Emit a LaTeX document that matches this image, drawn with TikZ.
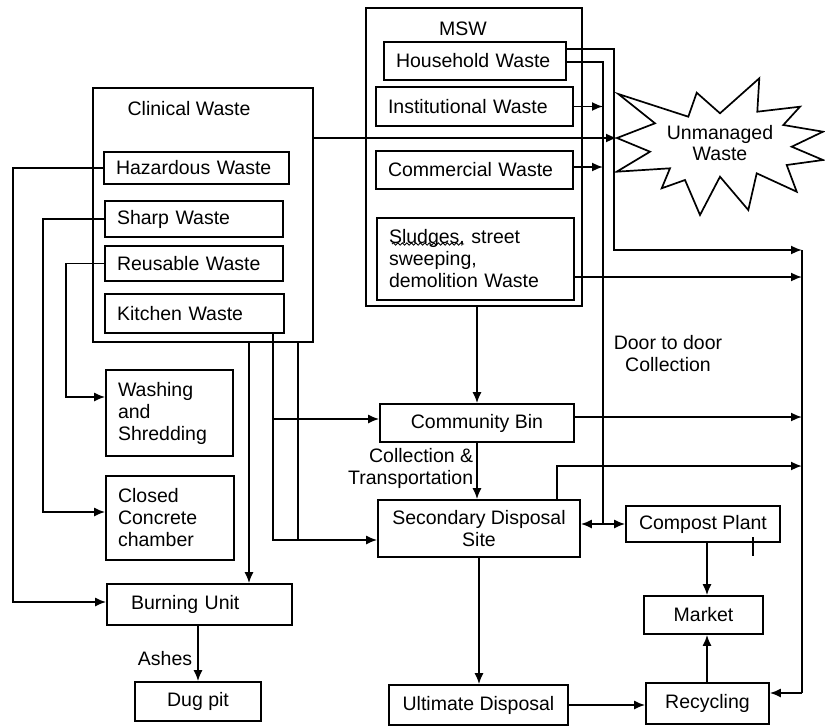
\documentclass[tikz,border=0pt]{standalone}
\usepackage{fontspec}
\setmainfont{Liberation Sans}
\usetikzlibrary{arrows.meta,decorations.pathmorphing}
\begin{document}
\begin{tikzpicture}[x=1pt,y=-1pt,
  font=\fontsize{19.5}{22}\selectfont,
  every path/.style={line width=1.7pt},
  lbox/.style={draw,line width=1.7pt,align=left,inner xsep=12pt,inner ysep=0pt},
  cbox/.style={draw,line width=1.7pt,align=center,inner sep=0pt},
  arr/.style={-{Latex[length=11pt,width=9pt]}},
  arrb/.style={{Latex[length=11pt,width=9pt]}-{Latex[length=11pt,width=9pt]}},
  lbl/.style={inner sep=0pt}]
\useasboundingbox[fill=white] (0,0) rectangle (825,726);

% outer group boxes
\node[draw,line width=1.7pt,minimum width=220pt,minimum height=254pt,inner sep=0pt] (clin) at (203,215) {};
\node[lbl] (clinlabel) at (189,109) {Clinical Waste};
\node[draw,line width=1.7pt,minimum width=216pt,minimum height=298pt,inner sep=0pt] (msw) at (474,157) {};
\node[lbl] (mswlabel) at (463,29) {MSW};

% clinical sub-boxes
\node[lbox,text width=161pt,minimum height=32pt] (haz) at (196.5,168) {Hazardous Waste};
\node[lbox,text width=154pt,minimum height=36pt] (sharp) at (194,219) {Sharp Waste};
\node[lbox,text width=154pt,minimum height=35pt] (reus) at (194,263.5) {Reusable Waste};
\node[lbox,text width=155pt,minimum height=39pt] (kitch) at (194.5,313.5) {Kitchen Waste};

% MSW sub-boxes
\node[lbox,text width=158pt,minimum height=38pt] (house) at (475,61) {Household Waste};
\node[lbox,text width=173pt,minimum height=39pt] (inst) at (474.5,106.5) {Institutional Waste};
\node[lbox,text width=173pt,minimum height=38pt] (comm) at (474.5,170) {Commercial Waste};
\node[lbox,text width=173pt,minimum height=82pt] (sludge) at (475.5,259) {Sludges, street\\sweeping,\\demolition Waste};

% left column
\node[lbox,text width=103pt,minimum height=86pt] (wash) at (169.5,413) {Washing\\and\\Shredding};
\node[lbox,text width=104pt,minimum height=84pt] (closed) at (170,518) {Closed\\Concrete\\chamber};
\node[lbox,inner xsep=24pt,text width=137pt,minimum height=41pt] (burn) at (199.5,604.5) {Burning Unit};
\node[cbox,minimum width=126pt,minimum height=39pt] (dug) at (198,701.5) {Dug pit};

% middle / right
\node[cbox,minimum width=194pt,minimum height=38pt] (cbin) at (477,423) {Community Bin};
\node[cbox,minimum width=202pt,minimum height=57pt] (sds) at (479,528.5) {Secondary Disposal\\Site};
\node[cbox,minimum width=154pt,minimum height=36pt] (compost) at (703,524) {Compost Plant};
\node[cbox,minimum width=119pt,minimum height=38pt] (market) at (703.5,615) {Market};
\node[cbox,minimum width=123pt,minimum height=41pt] (recyc) at (707.5,703.5) {Recycling};
\node[cbox,minimum width=179pt,minimum height=40pt] (ult) at (478.5,705) {Ultimate Disposal};

% star
\draw[line width=1.7pt,fill=white] (618.3,94) -- (688.3,116.7) -- (696.7,92.7) -- (720,113.3) -- (759.3,78.3)
  -- (757.3,111.7) -- (800,106.7) -- (783.3,125) -- (823,131.7) -- (791.7,146.7) -- (823,160)
  -- (786.7,165) -- (796.7,191.7) -- (756.7,173.3) -- (748.3,210) -- (720,176.7) -- (700,215)
  -- (685,180) -- (661.7,188.3) -- (670,168.3) -- (616.7,171.7) -- (650,151.7) -- (617,138)
  -- (655,123.3) -- cycle;
\coordinate (startip) at (617,138);
\node[lbl,align=center,font=\fontsize{19.5}{21}\selectfont] (unman) at (720,143) {Unmanaged\\Waste};

% labels
\node[lbl,align=right,anchor=east] (colltr) at (474,468.5) {Collection \&\\Transportation};
\node[lbl,align=center] (d2d) at (668,354) {Door to door\\Collection};
\node[lbl,anchor=east] (ashes) at (193,659) {Ashes};

% squiggle under Sludges
\draw[decorate,decoration={snake,amplitude=1.2pt,segment length=4.5pt},line width=0.8pt] (392,244) -- (464,244);
% stray tick mark
\draw (753,537) -- (753,556);

% coordinates
\coordinate (busTop) at (802,250);
\coordinate (busBot) at (802,693);
\coordinate (hA) at (614,49);
\coordinate (hB) at (603,62);
\coordinate (sl) at (802,277);
\coordinate (cb) at (802,417);
\coordinate (sdsup) at (557,466);
\coordinate (mcol) at (707,615);
\coordinate (hzx) at (13,602);
\coordinate (shx) at (43,512);
\coordinate (rux) at (66,397);
\coordinate (k1) at (249,342);
\coordinate (k2) at (273,540);
\coordinate (k2b) at (273,419);
\coordinate (k3) at (298,540);
\coordinate (cm) at (603,167);

% clinical to unmanaged
\draw[arr] (clin.east |- startip) -- (startip);

% left feeders
\draw[arr] (haz.west) -| (hzx) -- (hzx -| burn.west);
\draw[arr] (sharp.west) -| (shx) -- (shx -| closed.west);
\draw[arr] (reus.west) -| (rux) -- (rux -| wash.west);

% bottom of clinical
\draw[arr] (k1) -- (burn.north -| k1);
\draw[arr] (kitch.south -| k2) -- (k2) -- (k2 -| sds.west);
\draw[arr] (k2b) -- (k2b -| cbin.west);
\draw (clin.south -| k3) -- (k3);
\draw[arr] (burn.south -| dug.north) -- (dug.north);

% MSW outputs
\draw[arr] (house.east |- hA) -- (hA) |- (busTop);
\draw (house.east |- hB) -- (hB) -- (hB |- compost.west);
\draw[arr] (inst.east) -- (inst.east -| hB);
\draw[arr] (comm.east |- cm) -- (cm);
\draw[arr] (sludge.east |- sl) -- (sl);
\draw[arr] (cbin.north |- msw.south) -- (cbin.north);

% central chain
\draw[arr] (cbin.south) -- (cbin.south |- sds.north);
\draw[arr] (cbin.east |- cb) -- (cb);
\draw[arr] (sds.north -| sdsup) -- (sdsup) -- (sdsup -| busTop);
\draw[arrb] (sds.east |- compost.west) -- (compost.west);
\draw[arr] (sds.south) -- (sds.south |- ult.north);
\draw[arr] (ult.east) -- (ult.east -| recyc.west);
\draw[arr] (recyc.north -| mcol) -- (market.south -| mcol);
\draw[arr] (compost.south -| mcol) -- (market.north -| mcol);

% right bus
\draw (busTop) -- (busBot);
\draw[arr] (busBot) -- (recyc.east |- busBot);
\end{tikzpicture}
\end{document}
